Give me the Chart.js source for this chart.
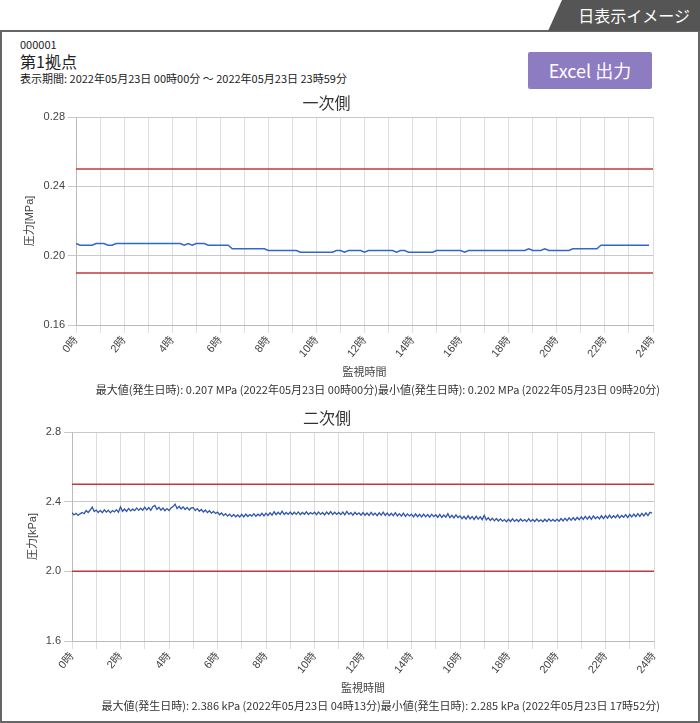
<!DOCTYPE html>
<html>
<head>
<meta charset="utf-8">
<script src="https://cdn.jsdelivr.net/npm/chart.js"></script>
<style>
  body { margin: 0; background: #fff; font-family: "Noto Sans CJK JP", sans-serif; color: #222; }
  #page { position: relative; width: 700px; height: 723px; overflow: hidden; }
  #tab { position: absolute; left: 548px; top: 0; width: 152px; height: 31px; background: #555;
         clip-path: polygon(14px 0, 100% 0, 100% 100%, 0 100%); color: #fff; font-size: 16px;
         line-height: 31px; text-align: right; padding-right: 10px; box-sizing: border-box; }
  #frame { position: absolute; left: 0; top: 30px; width: 700px; height: 693px; box-sizing: border-box;
           border: 2px solid #666; }
  .txt { position: absolute; white-space: nowrap; }
  #btn { position: absolute; left: 528px; top: 52px; width: 124px; height: 37px; background: #8e7cc3;
         color: #fff; font-size: 18px; line-height: 37px; text-align: center; border-radius: 2px; }
  canvas { position: absolute; left: 0; }
  .stats { position: absolute; right: 40px; font-size: 11px; line-height: 14px; color: #333; white-space: nowrap; }
</style>
</head>
<body>
<div id="page">
  <div id="frame"></div>
  <div id="tab">日表示イメージ</div>
  <div class="txt" style="left:20px; top:36px; font-size:11px;">000001</div>
  <div class="txt" style="left:20px; top:49px; font-size:16px;">第1拠点</div>
  <div class="txt" style="left:20px; top:70px; font-size:11px;">表示期間: 2022年05月23日 00時00分 ～ 2022年05月23日 23時59分</div>
  <div id="btn">Excel 出力</div>
  <canvas id="chart1" width="700" height="295" style="top:90px"></canvas>
  <div class="stats" id="stats1" style="top:382px"></div>
  <canvas id="chart2" width="700" height="296" style="top:405px"></canvas>
  <div class="stats" id="stats2" style="top:698px"></div>
</div>
<script>
// 一次側 (MPa) 10分ごと 00:00〜23:50
var primaryStepMin = 10;
var primaryValues = [
  0.207,0.206,0.206,0.206,0.206,0.207,
  0.207,0.207,0.206,0.206,0.207,0.207,
  0.207,0.207,0.207,0.207,0.207,0.207,
  0.207,0.207,0.207,0.207,0.207,0.207,
  0.207,0.207,0.207,0.206,0.207,0.206,
  0.207,0.207,0.207,0.206,0.206,0.206,
  0.206,0.206,0.206,0.204,0.204,0.204,
  0.204,0.204,0.204,0.204,0.204,0.204,
  0.203,0.203,0.203,0.203,0.203,0.203,
  0.203,0.203,0.202,0.202,0.202,0.202,
  0.202,0.202,0.202,0.202,0.202,0.203,
  0.203,0.202,0.203,0.203,0.203,0.203,
  0.202,0.203,0.203,0.203,0.203,0.203,
  0.203,0.203,0.202,0.203,0.203,0.202,
  0.202,0.202,0.202,0.202,0.202,0.202,
  0.203,0.203,0.203,0.203,0.203,0.203,
  0.203,0.202,0.203,0.203,0.203,0.203,
  0.203,0.203,0.203,0.203,0.203,0.203,
  0.203,0.203,0.203,0.203,0.203,0.204,
  0.203,0.203,0.203,0.204,0.203,0.203,
  0.203,0.203,0.203,0.203,0.204,0.204,
  0.204,0.204,0.204,0.204,0.204,0.206,
  0.206,0.206,0.206,0.206,0.206,0.206,
  0.206,0.206,0.206,0.206,0.206,0.206
];
var primaryLimits = [0.25, 0.19];
var primaryTicks = { min: 0.16, max: 0.28, step: 0.04 };

// 二次側 (kPa) 5分ごと 00:00〜23:55
var secondaryStepMin = 5;
var secondaryValues = [
  2.336,2.324,2.333,2.321,2.330,2.338,2.331,2.349,2.338,2.352,2.369,2.343,
  2.352,2.338,2.350,2.337,2.353,2.340,2.351,2.336,2.349,2.341,2.354,2.339,
  2.370,2.345,2.358,2.344,2.361,2.347,2.357,2.349,2.364,2.350,2.362,2.351,
  2.368,2.352,2.366,2.350,2.371,2.378,2.356,2.368,2.351,2.363,2.348,2.360,
  2.349,2.364,2.372,2.386,2.360,2.373,2.358,2.370,2.355,2.367,2.352,2.364,
  2.366,2.349,2.360,2.345,2.355,2.341,2.352,2.337,2.348,2.334,2.344,2.332,
  2.340,2.325,2.335,2.320,2.331,2.317,2.328,2.314,2.326,2.313,2.324,2.312,
  2.327,2.313,2.329,2.315,2.326,2.317,2.331,2.316,2.328,2.319,2.333,2.318,
  2.334,2.321,2.336,2.323,2.342,2.325,2.339,2.327,2.345,2.326,2.338,2.327,
  2.340,2.326,2.339,2.327,2.341,2.325,2.338,2.328,2.342,2.326,2.337,2.329,
  2.339,2.325,2.341,2.327,2.338,2.324,2.340,2.328,2.343,2.326,2.339,2.327,
  2.338,2.326,2.340,2.324,2.344,2.327,2.337,2.323,2.339,2.326,2.336,2.322,
  2.337,2.322,2.335,2.321,2.338,2.323,2.334,2.320,2.336,2.322,2.340,2.321,
  2.335,2.319,2.333,2.320,2.337,2.318,2.331,2.317,2.334,2.316,2.330,2.318,
  2.328,2.313,2.330,2.314,2.327,2.312,2.329,2.313,2.326,2.311,2.328,2.314,
  2.325,2.310,2.327,2.309,2.323,2.311,2.331,2.308,2.322,2.307,2.324,2.309,
  2.318,2.302,2.316,2.300,2.319,2.301,2.315,2.298,2.317,2.300,2.313,2.297,
  2.322,2.295,2.307,2.292,2.305,2.290,2.303,2.289,2.301,2.288,2.297,2.285,
  2.299,2.286,2.301,2.287,2.298,2.286,2.300,2.288,2.297,2.286,2.302,2.287,
  2.298,2.286,2.300,2.287,2.296,2.285,2.299,2.286,2.301,2.288,2.298,2.287,
  2.300,2.288,2.303,2.289,2.305,2.291,2.307,2.293,2.309,2.294,2.310,2.296,
  2.313,2.298,2.315,2.300,2.316,2.299,2.318,2.302,2.314,2.301,2.319,2.303,
  2.320,2.305,2.322,2.306,2.319,2.308,2.324,2.307,2.321,2.310,2.326,2.309,
  2.327,2.312,2.329,2.314,2.331,2.316,2.333,2.318,2.336,2.320,2.339,2.334
];
var secondaryLimits = [2.5, 2.0];
var secondaryTicks = { min: 1.6, max: 2.8, step: 0.4 };

var stats1 = "最大値(発生日時): 0.207 MPa (2022年05月23日 00時00分)最小値(発生日時): 0.202 MPa (2022年05月23日 09時20分)";
var stats2 = "最大値(発生日時): 2.386 kPa (2022年05月23日 04時13分)最小値(発生日時): 2.285 kPa (2022年05月23日 17時52分)";

Chart.defaults.font.family = "'Liberation Sans', 'Noto Sans CJK JP', sans-serif";
Chart.defaults.color = "#444";

function makeChart(id, title, unitLabel, values, stepMin, limits, ticks, yWidth, yTitlePad, rightPad, lineColor, lineW) {
  var pts = values.map(function (v, i) { return { x: i * stepMin / 60, y: v }; });
  var datasets = [{
    data: pts, borderColor: lineColor, borderWidth: lineW, pointRadius: 0, tension: 0
  }];
  limits.forEach(function (l) {
    datasets.push({
      data: [{ x: 0, y: l }, { x: 24, y: l }],
      borderColor: "#c0393b", borderWidth: 1.5, pointRadius: 0
    });
  });
  return new Chart(id, {
    type: "line",
    data: { datasets: datasets },
    options: {
      responsive: false,
      animation: false,
      layout: { padding: { left: 0, right: rightPad, top: 0, bottom: 0 } },
      plugins: {
        legend: { display: false },
        tooltip: { enabled: false },
        title: {
          display: true, text: title, color: "#333",
          font: { size: 16, weight: "normal", family: "'Noto Sans CJK JP', sans-serif" },
          padding: { top: 3, bottom: 4.8 }
        }
      },
      scales: {
        x: {
          type: "linear", min: 0, max: 24,
          afterFit: function (s) { s.height = 60; },
          grid: { color: "#dddddd", tickLength: 8 },
          border: { color: "#bbbbbb" },
          ticks: {
            stepSize: 1, autoSkip: false, minRotation: 50, maxRotation: 50, padding: 1,
            font: { size: 11 }, color: "#444",
            callback: function (v) { return v % 2 === 0 ? v + "時" : ""; }
          },
          title: { display: true, text: "監視時間", color: "#444", font: { size: 11 }, padding: { top: 2, bottom: 5.4 } }
        },
        y: {
          min: ticks.min, max: ticks.max,
          afterFit: function (s) { s.width = yWidth; },
          grid: { color: "#c8c8c8", tickLength: 8 },
          border: { color: "#bbbbbb" },
          ticks: {
            stepSize: ticks.step, font: { size: 11 }, color: "#444",
            callback: function (v) { return ticks.step < 0.1 ? v.toFixed(2) : v.toFixed(1); }
          },
          title: { display: true, text: unitLabel, color: "#444", font: { size: 11 }, padding: { top: yTitlePad, bottom: 0 } }
        }
      }
    }
  });
}

makeChart("chart1", "一次側", "圧力[MPa]", primaryValues, primaryStepMin, primaryLimits, primaryTicks, 76, 23.4, 47, "#3366cc", 1.5);
makeChart("chart2", "二次側", "圧力[kPa]", secondaryValues, secondaryStepMin, secondaryLimits, secondaryTicks, 72, 26.4, 46, "#2f54ad", 1.3);
document.getElementById("stats1").textContent = stats1;
document.getElementById("stats2").textContent = stats2;
</script>
</body>
</html>
